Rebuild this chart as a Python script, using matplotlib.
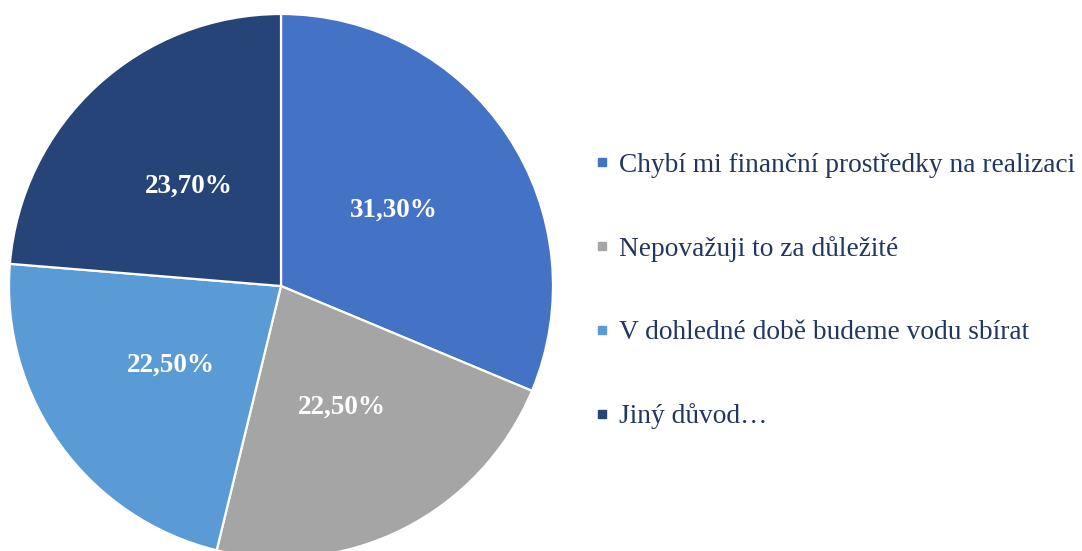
import matplotlib.pyplot as plt
from matplotlib.lines import Line2D

# data
labels = ['Chybí mi finanční prostředky na realizaci',
          'Nepovažuji to za důležité',
          'V dohledné době budeme vodu sbírat',
          'Jiný důvod…']
values = [31.3, 22.5, 22.5, 23.7]
colors = ['#4472C4', '#A5A5A5', '#5B9BD5', '#264478']

plt.rcParams['font.family'] = ['Liberation Serif', 'DejaVu Serif']

fig = plt.figure(figsize=(10.82, 5.51), dpi=100)
# pie axes: centre ~ (281, 286) px, radius ~272 px
r = 272
ax = fig.add_axes([(281 - r) / 1082, (551 - 286 - r) / 551, 2 * r / 1082, 2 * r / 551])

wedges, texts, autotexts = ax.pie(
    values, colors=colors, startangle=90, counterclock=False,
    autopct=lambda p: f'{p:.2f}%'.replace('.', ','), pctdistance=0.5,
    wedgeprops=dict(edgecolor='white', linewidth=1.6),
    textprops=dict(color='white', fontsize=19.5, fontweight='bold'),
    radius=1.0)
ax.set_xlim(-1, 1)
ax.set_ylim(-1, 1)
ax.set_aspect('equal')

handles = [Line2D([], [], marker='s', linestyle='none', markersize=6,
                  markerfacecolor=c, markeredgecolor=c) for c in colors]
leg = fig.legend(handles, labels, loc='center left', bbox_to_anchor=(583 / 1082, (551 - 291) / 551),
                 frameon=False, fontsize=19.7, labelspacing=2.12, handlelength=0.6,
                 handletextpad=0.3, borderaxespad=0)
for t in leg.get_texts():
    t.set_color('#22365F')

fig.savefig('out.png', dpi=100)
